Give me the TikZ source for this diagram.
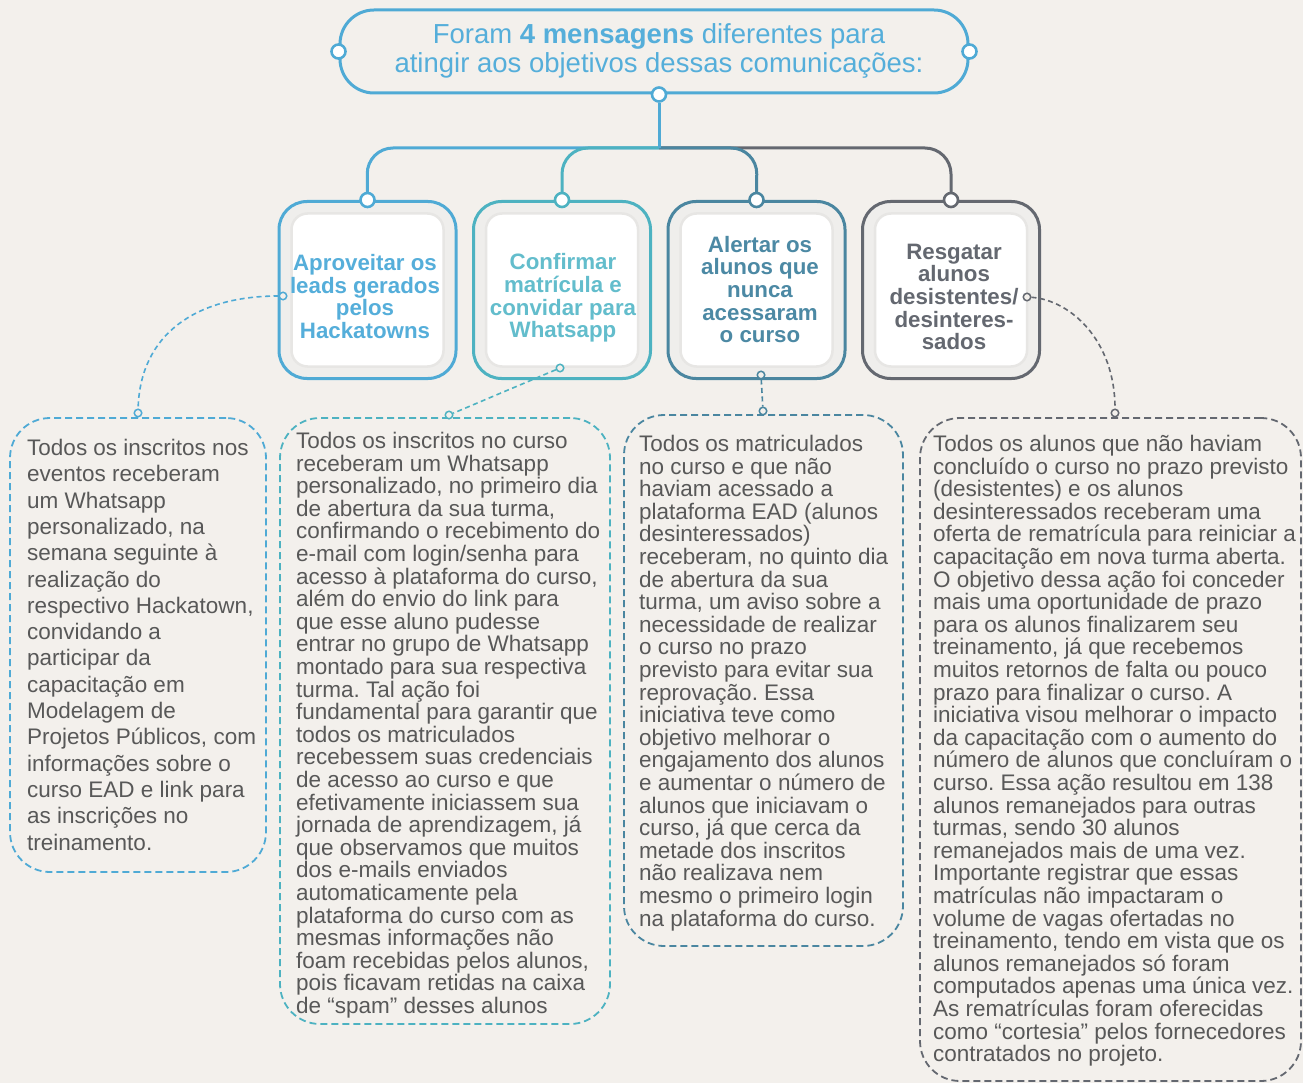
\documentclass[tikz,border=0pt]{standalone}
\usepackage{fontspec}
\setmainfont{Liberation Sans}
\frenchspacing
\definecolor{bg}{HTML}{F3F0EC}
\definecolor{cA}{HTML}{4FAAD5}
\definecolor{cB}{HTML}{4DB2C1}
\definecolor{cC}{HTML}{4A86A0}
\definecolor{cD}{HTML}{646870}
\definecolor{tA}{HTML}{55AEDA}
\definecolor{tB}{HTML}{63BDCC}
\definecolor{tC}{HTML}{4C89A4}
\definecolor{tD}{HTML}{646870}
\definecolor{bodyc}{HTML}{585858}
\definecolor{outer}{HTML}{EFEEEC}
\definecolor{shade}{HTML}{E7E6E4}
\begin{document}
\begin{tikzpicture}[x=1pt,y=-1pt,
  frame/.style={draw, line width=1.8pt, dash pattern=on 7pt off 4pt, rounded corners=40pt},
  dotline/.style={line width=1.6pt, dash pattern=on 5pt off 3.5pt},
  pin/.style={circle, draw, line width=1.5pt, fill=bg, inner sep=0pt, minimum size=7.5pt},
  knob/.style={circle, draw, line width=2.6pt, fill=white, inner sep=0pt, minimum size=14pt},
  catbox/.style={draw, line width=3pt, rounded corners=28pt, minimum width=177pt, minimum height=177pt, fill=outer, inner sep=0pt},
  inbox/.style={rounded corners=16pt, minimum width=152pt, minimum height=153pt, fill=white!60!white, draw=shade, line width=2.5pt, inner sep=0pt},
  cattext/.style={font=\fontsize{22.3}{22.7}\selectfont\bfseries, align=center, inner sep=0pt},
  bodytext/.style={anchor=north west, inner sep=0pt, align=left, text=bodyc, font=\fontsize{22.5}{22.6}\selectfont},
  branch/.style={line width=3pt, rounded corners=26pt},
]
\useasboundingbox (0,0) rectangle (1303,1083);
\fill[bg] (0,0) rectangle (1303,1083);

% title
\node[draw=cA, line width=3pt, rounded corners=34pt, minimum width=628pt, minimum height=83pt, inner sep=0pt] (title) at (654,51.5) {};
\node[text=tA, align=center, font=\fontsize{27.5}{29}\selectfont, inner sep=0pt] (titletext) at (659,51) {Foram \textbf{4 mensagens} diferentes para\\atingir aos objetivos dessas comunicações:};

\coordinate (jn) at (659,148);

% category boxes
\node[catbox, draw=cA] (b1) at (367.5,290) {};
\node[catbox, draw=cB] (b2) at (562,290) {};
\node[catbox, draw=cC] (b3) at (756.5,290) {};
\node[catbox, draw=cD] (b4) at (951,290) {};
\node[inbox] (i1) at (b1) {};
\node[inbox] (i2) at (b2) {};
\node[inbox] (i3) at (b3) {};
\node[inbox] (i4) at (b4) {};
\node[cattext, text=tA] (l1) at (365,296.5) {Aproveitar os\\leads gerados\\pelos\\Hackatowns};
\node[cattext, text=tB] (l2) at (563,298) {Confirmar\\matrícula e\\convidar para\\Whatsapp};
\node[cattext, text=tC] (l3) at (760,289.5) {Alertar os\\alunos que\\nunca\\acessaram\\o curso};
\node[cattext, text=tD] (l4) at (954,297) {Resgatar\\alunos\\desistentes/\\desinteres-\\sados};

% branches
\draw[branch, cD] (jn) -- (951,148) -- (b4.north);
\draw[branch, cC] (jn) -- (757,148) -- (b3.north);
\draw[branch, cA] (jn) -- (367,148) -- (b1.north);
\draw[branch, cB] (jn) -- (562,148) -- (b2.north);
\node[knob, draw=cA] (kt) at ([xshift=5pt]title.south) {};
\draw[line width=3pt, cA] (kt.south) -- (jn);
\node[knob, draw=cA] (kl) at (title.west) {};
\node[knob, draw=cA] (kr) at (title.east) {};
\node[knob, draw=cA] (k1) at (b1.north) {};
\node[knob, draw=cB] (k2) at (b2.north) {};
\node[knob, draw=cC] (k3) at (b3.north) {};
\node[knob, draw=cD] (k4) at (b4.north) {};

% text frames
\node[frame, draw=cA, minimum width=256pt, minimum height=454pt, inner sep=0pt] (f1) at (138,645) {};
\node[frame, draw=cB, minimum width=330pt, minimum height=606pt, inner sep=0pt] (f2) at (445,721) {};
\node[frame, draw=cC, minimum width=279pt, minimum height=531pt, inner sep=0pt] (f3) at (763.5,680.5) {};
\node[frame, draw=cD, minimum width=381pt, minimum height=663pt, inner sep=0pt] (f4) at (1110.5,749.5) {};

% pins and dotted connectors
\node[pin, draw=cA] (p1a) at (283,296) {};
\node[pin, draw=cA] (p1b) at (138,413) {};
\node[pin, draw=cB] (p2a) at (560,368) {};
\node[pin, draw=cB] (p2b) at (449,415) {};
\node[pin, draw=cC] (p3a) at (761,375) {};
\node[pin, draw=cC] (p3b) at (763,411) {};
\node[pin, draw=cD] (p4a) at (1027,297) {};
\node[pin, draw=cD] (p4b) at (1115,413) {};
\draw[dotline, cA] (p1a) .. controls (195,296) and (140,335) .. (p1b);
\draw[dotline, cB] (p2a) -- (p2b);
\draw[dotline, cC] (p3a) -- (p3b);
\draw[dotline, cD] (p4a) .. controls (1070,300) and (1115,340) .. (p4b);

% body texts
\node[bodytext, font=\fontsize{22.5}{26.3}\selectfont] (t1) at (27,439) {Todos os inscritos nos\\eventos receberam\\um Whatsapp\\personalizado, na\\semana seguinte à\\realização do\\respectivo Hackatown,\\convidando a\\participar da\\capacitação em\\Modelagem de\\Projetos Públicos, com\\informações sobre o\\curso EAD e link para\\as inscrições no\\treinamento.};

\node[bodytext] (t2) at (296,432) {Todos os inscritos no curso\\receberam um Whatsapp\\personalizado, no primeiro dia\\de abertura da sua turma,\\confirmando o recebimento do\\e-mail com login/senha para\\acesso à plataforma do curso,\\além do envio do link para\\que esse aluno pudesse\\entrar no grupo de Whatsapp\\montado para sua respectiva\\turma. Tal ação foi\\fundamental para garantir que\\todos os matriculados\\recebessem suas credenciais\\de acesso ao curso e que\\efetivamente iniciassem sua\\jornada de aprendizagem, já\\que observamos que muitos\\dos e-mails enviados\\automaticamente pela\\plataforma do curso com as\\mesmas informações não\\foam recebidas pelos alunos,\\pois ficavam retidas na caixa\\de “spam” desses alunos};

\node[bodytext] (t3) at (639,435) {Todos os matriculados\\no curso e que não\\haviam acessado a\\plataforma EAD (alunos\\desinteressados)\\receberam, no quinto dia\\de abertura da sua\\turma, um aviso sobre a\\necessidade de realizar\\o curso no prazo\\previsto para evitar sua\\reprovação. Essa\\iniciativa teve como\\objetivo melhorar o\\engajamento dos alunos\\e aumentar o número de\\alunos que iniciavam o\\curso, já que cerca da\\metade dos inscritos\\não realizava nem\\mesmo o primeiro login\\na plataforma do curso.};

\node[bodytext] (t4) at (933,435) {Todos os alunos que não haviam\\concluído o curso no prazo previsto\\(desistentes) e os alunos\\desinteressados receberam uma\\oferta de rematrícula para reiniciar a\\capacitação em nova turma aberta.\\O objetivo dessa ação foi conceder\\mais uma oportunidade de prazo\\para os alunos finalizarem seu\\treinamento, já que recebemos\\muitos retornos de falta ou pouco\\prazo para finalizar o curso. A\\iniciativa visou melhorar o impacto\\da capacitação com o aumento do\\número de alunos que concluíram o\\curso. Essa ação resultou em 138\\alunos remanejados para outras\\turmas, sendo 30 alunos\\remanejados mais de uma vez.\\Importante registrar que essas\\matrículas não impactaram o\\volume de vagas ofertadas no\\treinamento, tendo em vista que os\\alunos remanejados só foram\\computados apenas uma única vez.\\As rematrículas foram oferecidas\\como “cortesia” pelos fornecedores\\contratados no projeto.};
\end{tikzpicture}
\end{document}
